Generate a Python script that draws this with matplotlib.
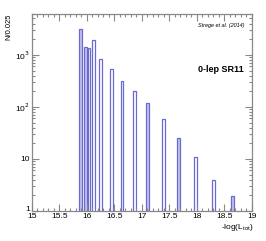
import matplotlib
matplotlib.use('Agg')
import matplotlib.pyplot as plt
import numpy as np
from matplotlib.ticker import MultipleLocator, LogLocator, FixedLocator

plt.rcParams['font.family'] = ['Liberation Sans', 'DejaVu Sans']

# histogram bins (centre of -log(L_tot)), counts per 0.025, filled or hollow
centers = [15.89, 15.98, 16.04, 16.12, 16.25, 16.45, 16.64, 16.87, 17.10, 17.39, 17.66, 17.98, 18.30, 18.65]
counts = [3200, 1400, 1350, 1950, 830, 530, 316, 200, 121, 58, 25, 11, 3.9, 1.9]
filled = [True, True, False, False, False, False, False, False, True, False, True, False, False, True]

xticks = [15, 15.5, 16, 16.5, 17, 17.5, 18, 18.5, 19]
xlabels = ['15', '15.5', '16', '16.5', '17', '17.5', '18', '18.5', '19']
yticks = [1, 10, 100, 1000]
ylabels = ['1', '10', r'10$^{2}$', r'10$^{3}$']

edge = '#6a6ad0'
fillc = '#c4c4ea'
frame = '#888888'

fig = plt.figure(figsize=(2.66, 2.41), dpi=100)
ax = fig.add_axes([0.120, 0.1245, 0.827, 0.8175])

for c, n, f in zip(centers, counts, filled):
    ax.bar(c, n, width=0.05, bottom=0, color=fillc if f else 'none',
           edgecolor=edge, linewidth=0.9)

ax.set_yscale('log')
ax.set_xlim(15, 19)
ax.set_ylim(1, 6100)

ax.xaxis.set_major_locator(FixedLocator(xticks))
ax.xaxis.set_minor_locator(MultipleLocator(0.1))
ax.yaxis.set_major_locator(FixedLocator(yticks))
ax.yaxis.set_minor_locator(LogLocator(base=10, subs=np.arange(2, 10)))
ax.set_xticklabels(xlabels)
ax.set_yticklabels(ylabels)

ax.tick_params(which='both', direction='in', top=True, right=True, color=frame,
               width=0.8, labelsize=6, pad=1.5)
ax.tick_params(which='major', length=5)
ax.tick_params(which='minor', length=2.5)
ax.get_yticklabels()[0].set_verticalalignment('baseline')
for s in ax.spines.values():
    s.set_color(frame)
    s.set_linewidth(0.9)

fig.text(0.035, 0.942, 'N/0.025', rotation=90, fontsize=5.5, ha='center', va='top')
fig.text(0.952, 0.035, r'-log(L$_{\mathregular{tot}}$)', fontsize=6, ha='right', va='bottom')
fig.text(0.92, 0.895, 'Strege et al. (2014)', fontsize=4, style='italic', ha='right', va='center')
fig.text(0.915, 0.70, '0-lep SR11', fontsize=6.5, fontweight='bold', ha='right', va='baseline')

fig.savefig('out.png', dpi=100)
